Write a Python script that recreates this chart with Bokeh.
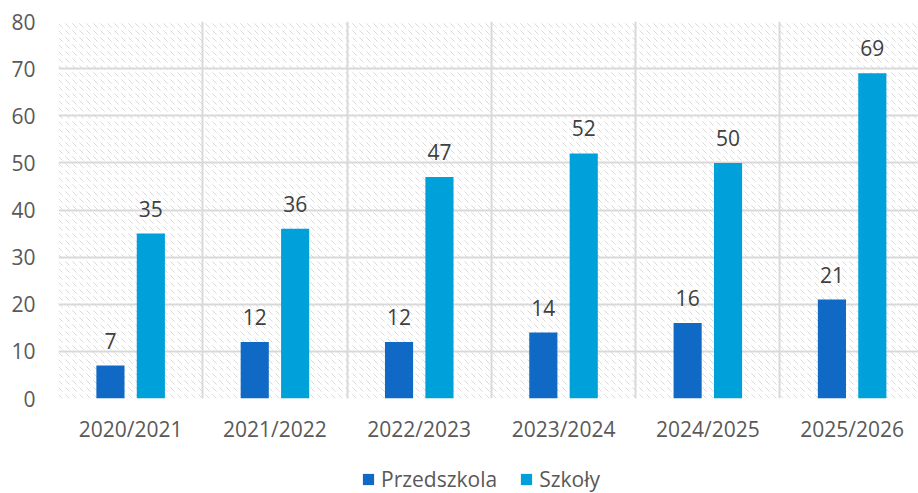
from bokeh.plotting import figure
from bokeh.layouts import column
from bokeh.models import ColumnDataSource, FixedTicker, BoxAnnotation, Legend, LegendItem
from bokeh.transform import dodge
from bokeh.core.properties import value
from bokeh.embed import file_html
from bokeh.resources import INLINE

years = ["2020/2021", "2021/2022", "2022/2023", "2023/2024", "2024/2025", "2025/2026"]
przedszkola = [7, 12, 12, 14, 16, 21]
szkoly = [35, 36, 47, 52, 50, 69]
y_ticks = [0, 10, 20, 30, 40, 50, 60, 70, 80]
series_names = ["Przedszkola", "Szkoły"]

FONT = "Open Sans"
FS = "21px"
C1 = "#1169C6"
C2 = "#00A0DA"

xc = [i + 0.5 for i in range(len(years))]
src = ColumnDataSource(dict(x=xc, p=przedszkola, s=szkoly,
                            pl=[str(v) for v in przedszkola],
                            sl=[str(v) for v in szkoly]))

p = figure(width=918, height=453, output_backend="svg", toolbar_location=None,
           x_range=(0, len(years) - 0.04), y_range=(0, 80),
           min_border_left=58, min_border_top=21, min_border_right=0, min_border_bottom=55)
p.outline_line_color = None
p.background_fill_color = "white"
p.border_fill_color = "white"

bg = BoxAnnotation(fill_color="white", fill_alpha=1.0, line_color=None,
                   hatch_pattern="left_diagonal_dash", hatch_color="#d9d9d9",
                   hatch_scale=7, hatch_weight=1, level="underlay")
p.renderers.insert(0, bg)

r1 = p.vbar(x=dodge("x", -0.14, range=p.x_range), top="p", width=0.195, source=src,
            fill_color=C1, line_color=None)
r2 = p.vbar(x=dodge("x", 0.14, range=p.x_range), top="s", width=0.195, source=src,
            fill_color=C2, line_color=None)

p.text(x=dodge("x", -0.14, range=p.x_range), y="p", text="pl", source=src,
       text_font=value(FONT), text_font_size=FS, text_color="#404040",
       text_align="center", text_baseline="alphabetic", y_offset=-25)
p.text(x=dodge("x", 0.14, range=p.x_range), y="s", text="sl", source=src,
       text_font=value(FONT), text_font_size=FS, text_color="#404040",
       text_align="center", text_baseline="alphabetic", y_offset=-25)

p.xaxis.ticker = FixedTicker(ticks=xc)
p.xaxis.major_label_overrides = {x: y for x, y in zip(xc, years)}
p.xaxis.axis_line_color = None
p.xaxis.major_tick_line_color = None
p.xaxis.minor_tick_line_color = None
p.xaxis.major_tick_out = 0
p.xaxis.major_label_standoff = 16
p.xaxis.major_label_text_font = FONT
p.xaxis.major_label_text_font_size = FS
p.xaxis.major_label_text_color = "#595959"

p.yaxis.ticker = FixedTicker(ticks=y_ticks)
p.yaxis.axis_line_color = None
p.yaxis.major_tick_line_color = None
p.yaxis.minor_tick_line_color = None
p.yaxis.major_tick_out = 0
p.yaxis.major_label_standoff = 23
p.yaxis.major_label_text_font = FONT
p.yaxis.major_label_text_font_size = FS
p.yaxis.major_label_text_color = "#595959"

p.xgrid.ticker = FixedTicker(ticks=list(range(len(years) + 1)))
p.xgrid.grid_line_color = "#d9d9d9"
p.xgrid.grid_line_width = 2
p.ygrid.grid_line_color = "#d9d9d9"
p.ygrid.grid_line_width = 2

# legend strip
lg = figure(width=918, height=40, output_backend="svg", toolbar_location=None,
            x_range=(0, 1), y_range=(0, 1),
            min_border_left=0, min_border_right=0, min_border_top=0, min_border_bottom=0)
lg.axis.visible = False
lg.grid.visible = False
lg.outline_line_color = None
lg.border_fill_color = "white"
d1 = lg.vbar(x=[-9], top=[-9], width=0.1, fill_color=C1, line_color=None)
d2 = lg.vbar(x=[-9], top=[-9], width=0.1, fill_color=C2, line_color=None)
legend = Legend(items=[LegendItem(label=series_names[0], renderers=[d1]),
                       LegendItem(label=series_names[1], renderers=[d2])],
                orientation="horizontal", location=(303, 0),
                label_text_font=FONT, label_text_font_size=FS,
                label_text_color="#595959", glyph_width=14, glyph_height=14,
                spacing=22, label_standoff=6, border_line_color=None,
                background_fill_alpha=0, padding=0, margin=0)
lg.add_layout(legend, "center")

layout = column(p, lg, spacing=0)
open("out.html", "w").write(file_html(layout, INLINE))
